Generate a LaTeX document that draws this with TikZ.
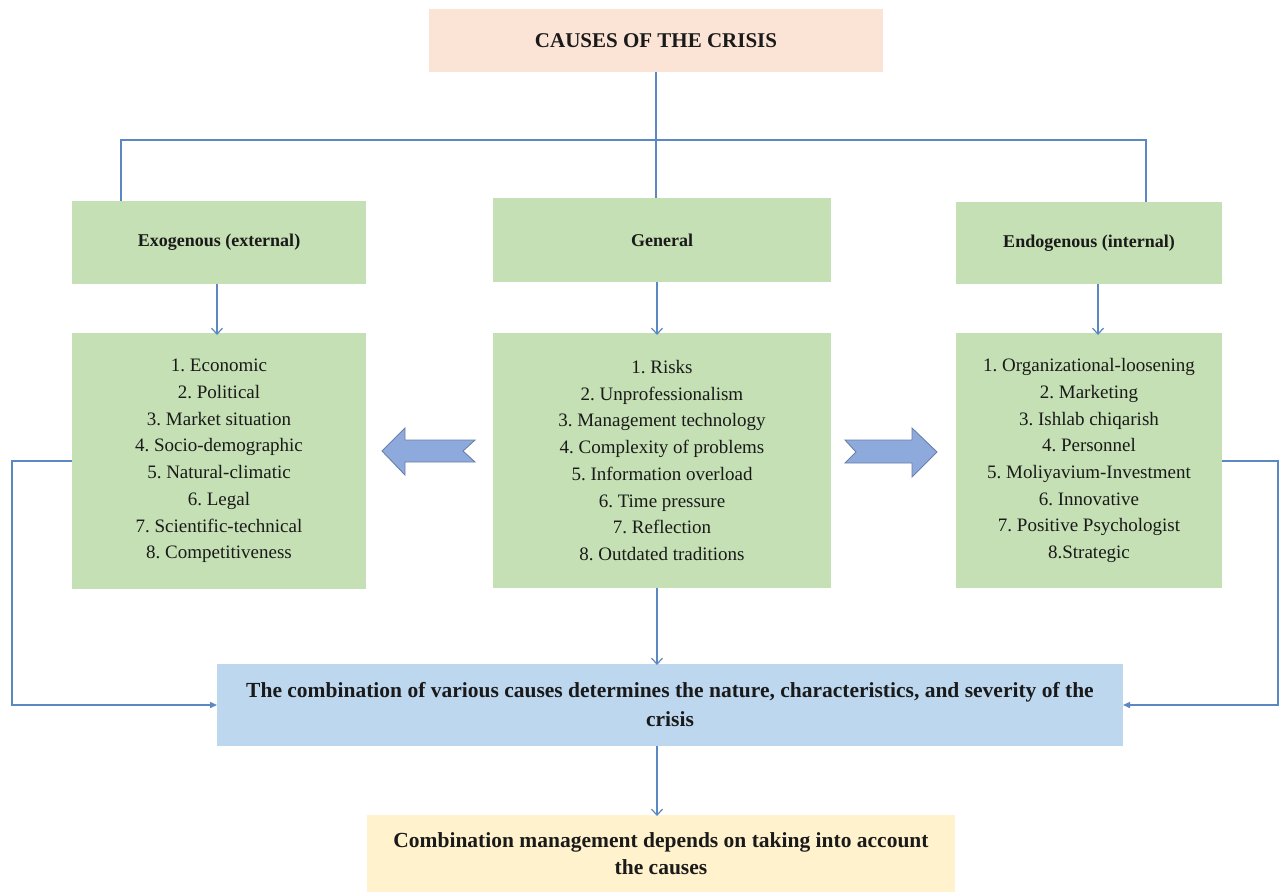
\documentclass[tikz,border=0pt]{standalone}
\usepackage{fontspec}
\setmainfont{Liberation Serif}
\usetikzlibrary{arrows.meta,calc}
\definecolor{peach}{HTML}{FBE4D6}
\definecolor{gfill}{HTML}{C5E0B4}
\definecolor{bfill}{HTML}{BDD7EE}
\definecolor{yfill}{HTML}{FFF2CC}
\definecolor{lnc}{HTML}{5B87C2}
\definecolor{afill}{HTML}{8EA9DB}
\definecolor{adraw}{HTML}{6A80A8}
\definecolor{txt}{HTML}{1A1A1A}
\frenchspacing
\begin{document}
\begin{tikzpicture}[x=1pt,y=-1pt,
  base/.style={anchor=north west, inner sep=0pt, outer sep=0pt, align=center, text=txt},
  topbox/.style={base, fill=peach, font=\bfseries\fontsize{21}{24}\selectfont},
  hdrbox/.style={base, fill=gfill, font=\bfseries\fontsize{18}{22}\selectfont},
  listbox/.style={base, fill=gfill, font=\fontsize{19}{26.7}\selectfont},
  combbox/.style={base, fill=bfill, font=\bfseries\fontsize{21.5}{29}\selectfont},
  mgmtbox/.style={base, fill=yfill, font=\bfseries\fontsize{21.5}{27}\selectfont},
  conn/.style={draw=lnc, line width=1.4pt},
  arr/.style={conn, -{Straight Barb[length=6pt,width=11pt,line width=1.2pt]}},
  arrt/.style={conn, -{Triangle[length=7pt,width=6pt]}},
  blockarrow/.style={fill=afill, draw=adraw, line width=0.9pt, line join=miter}
]
\useasboundingbox[fill=white] (0,0) rectangle (1282,892);

\node[topbox, minimum width=454, minimum height=63] (top) at (429,9) {CAUSES OF THE CRISIS};

\node[hdrbox, minimum width=294, minimum height=83] (exo) at (72,201) {Exogenous (external)};
\node[hdrbox, minimum width=338, minimum height=84] (gen) at (493,198) {General};
\node[hdrbox, minimum width=266, minimum height=82] (endo) at (956,202) {Endogenous (internal)};

\node[listbox, minimum width=294, minimum height=256] (exol) at (72,333) {1. Economic\\2. Political\\3. Market situation\\4. Socio-demographic\\5. Natural-climatic\\6. Legal\\7. Scientific-technical\\8. Competitiveness};
\node[listbox, minimum width=338, minimum height=255] (genl) at (493,333) {1. Risks\\2. Unprofessionalism\\3. Management technology\\4. Complexity of problems\\5. Information overload\\6. Time pressure\\7. Reflection\\8. Outdated traditions};
\node[listbox, minimum width=266, minimum height=255] (endol) at (956,333) {1. Organizational-loosening\\2. Marketing\\3. Ishlab chiqarish\\4. Personnel\\5. Moliyavium-Investment\\6. Innovative\\7. Positive Psychologist\\8.Strategic};

\node[combbox, minimum width=906, minimum height=82] (comb) at (217,664) {The combination of various causes determines the nature, characteristics, and severity of the\\crisis};
\node[mgmtbox, minimum width=588, minimum height=77] (mgmt) at (367,815) {Combination management depends on taking into account\\the causes};

% tree from the top box
\coordinate (hub) at (656,140);
\coordinate (jl) at (121,140);
\coordinate (jr) at (1146,140);
\draw[conn] (top.south -| hub) -- (hub);
\draw[conn] (jl |- exo.north) -- (jl) -- (jr) -- (jr |- endo.north);
\draw[conn] (hub) -- (hub |- gen.north);

% headers to lists
\draw[arr] ([xshift=-2pt]exo.south) -- ([xshift=-2pt,yshift=-2pt]exol.north);
\draw[arr] ([xshift=-5pt]gen.south) -- ([xshift=-5pt,yshift=-2pt]genl.north);
\draw[arr] ([xshift=9pt]endo.south) -- ([xshift=9pt,yshift=-2pt]endol.north);

% to the combination box
\coordinate (l1) at (12,461);
\coordinate (r1) at (1278,461);
\draw[arrt] (exol.west |- l1) -- (l1) |- (comb.west);
\draw[arrt] (endol.east |- r1) -- (r1) |- (comb.east);
\draw[arr] ([xshift=-13pt]genl.south -| comb.north) -- ([xshift=-13pt,yshift=-1pt]comb.north);
\draw[arr] ([xshift=-4pt]mgmt.north |- comb.south) -- ([xshift=-4pt,yshift=-1pt]mgmt.north);

% block arrows
\draw[blockarrow] (382,451) -- (405,428) -- (405,440) -- (475,440) -- (463,451) -- (475,462) -- (405,462) -- (405,475) -- cycle;
\draw[blockarrow] (845,440) -- (912,440) -- (912,428) -- (937,452) -- (912,477) -- (912,463) -- (845,463) -- (856,452) -- cycle;
\end{tikzpicture}
\end{document}
